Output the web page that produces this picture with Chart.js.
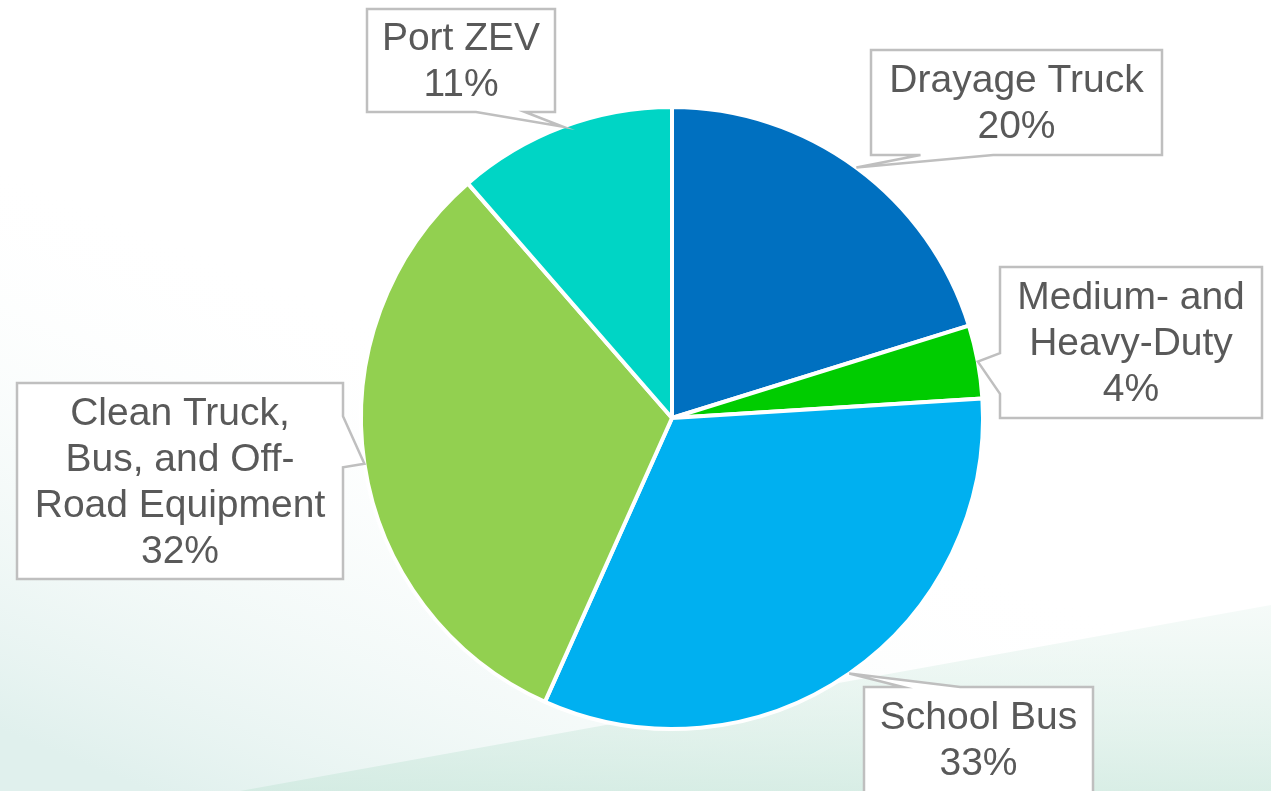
<!DOCTYPE html>
<html>
<head>
<meta charset="utf-8">
<script src="https://cdn.jsdelivr.net/npm/chart.js@4.4.1/dist/chart.umd.min.js"></script>
<style>
  html, body { margin: 0; padding: 0; background: #fff; }
  #wrap { width: 1271px; height: 791px; }
</style>
</head>
<body>
<div id="wrap"><canvas id="chart" width="1271" height="791"></canvas></div>
<script>
const categories = ["Drayage Truck", "Medium- and Heavy-Duty", "School Bus", "Clean Truck, Bus, and Off-Road Equipment", "Port ZEV"];
// how each category name wraps inside its callout
const labelLines = [
  ["Drayage Truck"],
  ["Medium- and", "Heavy-Duty"],
  ["School Bus"],
  ["Clean Truck,", "Bus, and Off-", "Road Equipment"],
  ["Port ZEV"],
];
const shares = [20.2, 3.8, 32.7, 31.9, 11.4];
const sliceColors = ["#0070C0", "#00CC00", "#00B0F0", "#92D050", "#00D5C5"];

// callout boxes: rectangle, the side the pointer leaves from, and where along that side (0..1)
const callouts = [
  { box: { x: 871, y: 50, w: 291, h: 105 }, side: "bottom", from: 0.17, to: 0.42 },
  { box: { x: 1000, y: 267, w: 262, h: 151 }, side: "left", from: 0.57, to: 0.84 },
  { box: { x: 864, y: 687, w: 229, h: 130 }, side: "top", from: 0.17, to: 0.42 },
  { box: { x: 17, y: 383, w: 326, h: 196 }, side: "right", from: 0.17, to: 0.43 },
  { box: { x: 367, y: 9, w: 188, h: 103 }, side: "bottom", from: 0.58, to: 0.84 },
];

const TEXT_COLOR = "#595959";
const BOX_BORDER = "#bfbfbf";
const FONT = '39px "Liberation Sans", Arial, sans-serif';
const LINE_H = 46;

const backdrop = {
  id: "backdrop",
  beforeDraw(chart) {
    const { ctx, width, height } = chart;
    ctx.save();
    ctx.fillStyle = "#ffffff";
    ctx.fillRect(0, 0, width, height);

    // soft wash rising from the bottom-left
    const wash = ctx.createLinearGradient(150, height, 350, 300);
    wash.addColorStop(0, "rgba(224,240,237,1)");
    wash.addColorStop(1, "rgba(255,255,255,0)");
    ctx.fillStyle = wash;
    ctx.fillRect(0, 0, width, height);

    // diagonal band along the bottom
    const band = ctx.createLinearGradient(0, height, 0, 600);
    band.addColorStop(0, "rgba(208,234,224,0.8)");
    band.addColorStop(1, "rgba(228,243,237,0.35)");
    ctx.fillStyle = band;
    ctx.beginPath();
    ctx.moveTo(240, height);
    ctx.lineTo(width, 605);
    ctx.lineTo(width, height);
    ctx.closePath();
    ctx.fill();
    ctx.restore();
  },
};

function calloutPath(ctx, c, tip) {
  const { x, y, w, h } = c.box;
  const r = x + w;
  const b = y + h;
  ctx.beginPath();
  ctx.moveTo(x, y);
  if (c.side === "top") {
    ctx.lineTo(x + w * c.from, y);
    ctx.lineTo(tip.x, tip.y);
    ctx.lineTo(x + w * c.to, y);
  }
  ctx.lineTo(r, y);
  if (c.side === "right") {
    ctx.lineTo(r, y + h * c.from);
    ctx.lineTo(tip.x, tip.y);
    ctx.lineTo(r, y + h * c.to);
  }
  ctx.lineTo(r, b);
  if (c.side === "bottom") {
    ctx.lineTo(x + w * c.to, b);
    ctx.lineTo(tip.x, tip.y);
    ctx.lineTo(x + w * c.from, b);
  }
  ctx.lineTo(x, b);
  if (c.side === "left") {
    ctx.lineTo(x, y + h * c.to);
    ctx.lineTo(tip.x, tip.y);
    ctx.lineTo(x, y + h * c.from);
  }
  ctx.closePath();
}

const calloutLabels = {
  id: "calloutLabels",
  afterDatasetsDraw(chart) {
    const { ctx } = chart;
    const meta = chart.getDatasetMeta(0);
    const values = chart.data.datasets[0].data;
    const total = values.reduce((a, v) => a + v, 0);

    ctx.save();
    meta.data.forEach((arc, i) => {
      const c = callouts[i];
      if (!c) return;
      const { x, y, startAngle, endAngle, outerRadius } = arc.getProps(["x", "y", "startAngle", "endAngle", "outerRadius"], true);
      const mid = (startAngle + endAngle) / 2;
      const tip = { x: x + Math.cos(mid) * outerRadius, y: y + Math.sin(mid) * outerRadius };

      calloutPath(ctx, c, tip);
      ctx.fillStyle = "#ffffff";
      ctx.fill();
      ctx.lineWidth = 2.5;
      ctx.lineJoin = "miter";
      ctx.strokeStyle = BOX_BORDER;
      ctx.stroke();

      const lines = labelLines[i].concat([Math.round((values[i] / total) * 100) + "%"]);
      const { box } = c;
      const boxH = Math.min(box.h, chart.height - box.y);
      const cx = box.x + box.w / 2;
      const top = box.y + boxH / 2 - ((lines.length - 1) * LINE_H) / 2 + 2;
      ctx.font = FONT;
      ctx.fillStyle = TEXT_COLOR;
      ctx.textAlign = "center";
      ctx.textBaseline = "middle";
      lines.forEach((t, k) => ctx.fillText(t, cx, top + k * LINE_H));
    });
    ctx.restore();
  },
};

new Chart(document.getElementById("chart"), {
  type: "pie",
  data: {
    labels: categories,
    datasets: [
      {
        data: shares,
        backgroundColor: sliceColors,
        borderColor: "#ffffff",
        borderWidth: 4,
        hoverOffset: 0,
      },
    ],
  },
  options: {
    responsive: false,
    animation: false,
    devicePixelRatio: 1,
    layout: { padding: { top: 105, bottom: 60, left: 73, right: 0 } },
    plugins: {
      legend: { display: false },
      tooltip: { enabled: false },
    },
  },
  plugins: [backdrop, calloutLabels],
});
</script>
</body>
</html>
